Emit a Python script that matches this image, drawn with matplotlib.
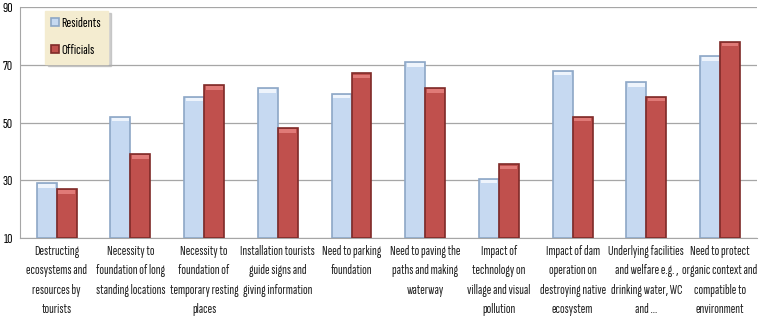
import numpy as np
import matplotlib.pyplot as plt

categories = [
    "Destructing\necosystems and\nresources by\ntourists",
    "Necessity to\nfoundation of long\nstanding locations",
    "Necessity to\nfoundation of\ntemporary resting\nplaces",
    "Installation tourists\nguide signs and\ngiving information",
    "Need to parking\nfoundation",
    "Need to paving the\npaths and making\nwaterway",
    "Impact of\ntechnology on\nvillage and visual\npollution",
    "Impact of dam\noperation on\ndestroying native\necosystem",
    "Underlying facilities\nand welfare e.g. ,\ndrinking water, WC\nand ...",
    "Need to protect\norganic context and\ncompatible to\nenvironment",
]
residents = [29, 52, 59, 62, 60, 71, 30.5, 68, 64, 73]
officials = [27, 39, 63, 48, 67, 62, 35.5, 52, 59, 78]
yticks = [10, 30, 50, 70, 90]

plt.rcParams['font.family'] = ['Sofia Sans Extra Condensed', 'DejaVu Sans']

fig = plt.figure(figsize=(7.63, 3.22), dpi=100)
ax = fig.add_axes([0.026, 0.261, 0.966, 0.717])

x = np.arange(len(categories))
w = 0.27
b1 = ax.bar(x - w / 2, np.array(residents) - 10, w, bottom=10, color='#c6d9f1',
            edgecolor='#8da7c6', linewidth=1.2, zorder=3)
b2 = ax.bar(x + w / 2, np.array(officials) - 10, w, bottom=10, color='#c0504d',
            edgecolor='#7f2a28', linewidth=1.2, zorder=3)

# light caps on top of the bars to mimic the bevel
for bars, cap in ((b1, '#eef4fc'), (b2, '#e07a77')):
    for r in bars:
        ax.bar(r.get_x() + r.get_width() / 2, 1.2, r.get_width() * 0.85,
               bottom=r.get_y() + r.get_height() - 1.6, color=cap, zorder=4, linewidth=0)

ax.set_ylim(10, 90)
ax.set_xlim(-0.5, len(categories) - 0.5)
ax.set_yticks(yticks)
ax.set_xticks(x)
ax.set_xticklabels(categories, fontsize=10, color='#222222', linespacing=1.65)
ax.tick_params(axis='x', length=0, pad=5)
ax.tick_params(axis='y', length=0, labelsize=10.5, pad=5)
ax.grid(axis='y', color='#a6a6a6', linewidth=0.9, zorder=0)
for s in ['top', 'right']:
    ax.spines[s].set_visible(False)
ax.spines['left'].set_color('#a6a6a6')
ax.spines['bottom'].set_color('#a6a6a6')

leg = ax.legend([b1, b2], ['Residents', 'Officials'], loc='upper left',
                bbox_to_anchor=(0.034, 0.985), borderaxespad=0, frameon=True, fontsize=10.5,
                handlelength=0.5, handleheight=0.5, handletextpad=0.2,
                labelspacing=0.95, borderpad=0.45, fancybox=False,
                shadow={'color': '#b0b0b0', 'alpha': 0.6})
leg.get_frame().set_facecolor('#f4ecd0')
leg.get_frame().set_edgecolor('#f4ecd0')
leg.set_zorder(5)

fig.savefig('out.png', dpi=100)
